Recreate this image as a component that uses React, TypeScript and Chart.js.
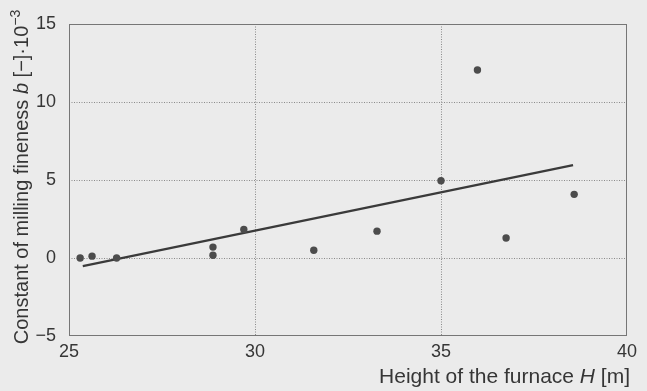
import React, { useEffect, useRef } from "react";
import { Chart, registerables } from "chart.js";

Chart.register(...registerables);

const pointsH = [25.3, 25.62, 26.28, 28.87, 28.87, 29.7, 31.58, 33.28, 35.0, 35.98, 36.75, 38.58];
const pointsB = [0.0, 0.12, 0.0, 0.7, 0.18, 1.83, 0.5, 1.72, 4.95, 12.05, 1.28, 4.08];
const fitLineH = [25.37, 38.55];
const fitLineB = [-0.52, 5.95];
const xTicks = [25, 30, 35, 40];
const yTicks = [-5, 0, 5, 10, 15];

const FONT = "'Liberation Sans', Arial, Helvetica, sans-serif";
const TEXT = "#363636";
const BG = "#ebebeb";

const framePlugin = {
  id: "frame",
  beforeDatasetsDraw(chart: any) {
    const { ctx, chartArea } = chart;
    ctx.save();
    ctx.strokeStyle = "#767676";
    ctx.lineWidth = 1;
    ctx.strokeRect(
      Math.round(chartArea.left) + 0.5,
      Math.round(chartArea.top) + 0.5,
      Math.round(chartArea.right - chartArea.left) - 1,
      Math.round(chartArea.bottom - chartArea.top) - 1
    );
    ctx.restore();
  },
  afterDraw(chart: any) {
    const { ctx } = chart;
    const measure = (segs: [string, string, number, number][]) => {
      let w = 0;
      for (const [t, st, sz] of segs) {
        ctx.font = `${st} ${sz}px ${FONT}`;
        w += ctx.measureText(t).width;
      }
      return w;
    };
    ctx.save();
    ctx.fillStyle = TEXT;
    ctx.textBaseline = "alphabetic";
    ctx.textAlign = "left";
    // x title
    const xs = 21;
    const xSegs: [string, string, number, number][] = [
      ["Height of the furnace ", "normal", xs, 0],
      ["H", "italic", xs, 0],
      [" [m]", "normal", xs, 0],
    ];
    const wx = measure(xSegs);
    let x0 = 630 - wx;
    for (const [t, st, sz, dy] of xSegs) {
      ctx.font = `${st} ${sz}px ${FONT}`;
      ctx.fillText(t, x0, 383 + dy);
      x0 += ctx.measureText(t).width;
    }
    // y title
    const ys = 20;
    const ySegs: [string, string, number, number][] = [
      ["Constant of milling fineness ", "normal", ys, 0],
      ["b", "italic", ys, 0],
      [" [\u2212]\u00b710", "normal", ys, 0],
      ["\u22123", "normal", 14, -8],
    ];
    const wy = measure(ySegs);
    ctx.translate(28, 177);
    ctx.rotate(-Math.PI / 2);
    let p = -wy / 2;
    for (const [t, st, sz, dy] of ySegs) {
      ctx.font = `${st} ${sz}px ${FONT}`;
      ctx.fillText(t, p, dy);
      p += ctx.measureText(t).width;
    }
    ctx.restore();
  },
};

const bgPlugin = {
  id: "bg",
  beforeDraw(chart: any) {
    const { ctx, width, height } = chart;
    ctx.save();
    ctx.fillStyle = BG;
    ctx.fillRect(0, 0, width, height);
    ctx.restore();
  },
};

export default function App() {
  const ref = useRef<HTMLCanvasElement | null>(null);
  useEffect(() => {
    document.body.style.margin = "0";
    const canvas = ref.current;
    if (!canvas) return;
    const chart = new Chart(canvas, {
      type: "scatter",
      data: {
        datasets: [
          {
            type: "scatter",
            data: pointsH.map((h, i) => ({ x: h, y: pointsB[i] })),
            backgroundColor: "#4c4c4c",
            borderColor: "#4c4c4c",
            pointRadius: 3.7,
            borderWidth: 0,
          },
          {
            type: "line",
            data: fitLineH.map((h, i) => ({ x: h, y: fitLineB[i] })),
            borderColor: "#3a3a3a",
            borderWidth: 2.2,
            pointRadius: 0,
            fill: false,
          } as any,
        ],
      },
      options: {
        animation: false,
        responsive: false,
        devicePixelRatio: 1,
        layout: { padding: { top: 24, right: 20, left: 0, bottom: 0 } },
        plugins: { legend: { display: false }, tooltip: { enabled: false } },
        scales: {
          x: {
            type: "linear",
            min: 25,
            max: 40,
            afterBuildTicks: (s: any) => {
              s.ticks = xTicks.map((v) => ({ value: v }));
            },
            afterFit: (s: any) => {
              s.height = 55;
            },
            ticks: {
              font: { size: 18, family: FONT },
              color: TEXT,
              padding: 5,
              maxRotation: 0,
            },
            grid: {
              drawTicks: false,
              color: (c: any) => (c.tick && (c.tick.value === 25 || c.tick.value === 40) ? "rgba(0,0,0,0)" : "#8a8a8a"),
              lineWidth: 1,
            },
            border: { display: false, dash: [1, 1.5] },
          },
          y: {
            type: "linear",
            min: -5,
            max: 15,
            afterBuildTicks: (s: any) => {
              s.ticks = yTicks.map((v) => ({ value: v }));
            },
            afterFit: (s: any) => {
              s.width = 69;
            },
            ticks: {
              font: { size: 18, family: FONT },
              color: TEXT,
              padding: 13,
              callback: (v: any) => String(v).replace("-", "\u2212"),
            },
            grid: {
              drawTicks: false,
              color: (c: any) => (c.tick && (c.tick.value === -5 || c.tick.value === 15) ? "rgba(0,0,0,0)" : "#8a8a8a"),
              lineWidth: 1,
            },
            border: { display: false, dash: [1, 1.5] },
          },
        },
      },
      plugins: [bgPlugin, framePlugin],
    });
    return () => chart.destroy();
  }, []);
  return (
    <div style={{ position: "absolute", left: 0, top: 0, width: 647, height: 391, background: BG }}>
      <canvas ref={ref} width={647} height={391} style={{ display: "block" }} />
    </div>
  );
}
